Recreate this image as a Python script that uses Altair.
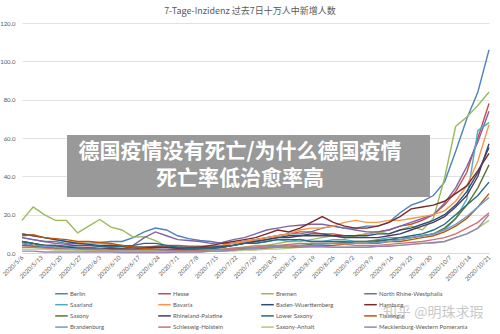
import altair as alt
import pandas as pd

# ---- data -------------------------------------------------------------
DATES = pd.date_range("2020-05-06", "2020-10-21", freq="4D")          # 43 sample dates
TICK_DATES = pd.date_range("2020-05-06", "2020-10-21", freq="7D")     # weekly axis labels

STATES = ["Berlin", "Hesse", "Bremen", "North Rhine-Westphalia",
          "Saarland", "Bavaria", "Baden-Wuerttemberg", "Hamburg",
          "Saxony", "Rhineland-Palatine", "Lower Saxony", "Thuringia",
          "Brandenburg", "Schleswig-Holstein", "Saxony-Anhalt",
          "Mecklenburg-Western Pomerania"]
COLORS = ["#4F81BD", "#C0504D", "#9BBB59", "#8064A2",
          "#4BACC6", "#F79646", "#2C4D75", "#772C2A",
          "#5F7530", "#4D3B62", "#276A7C", "#B65708",
          "#729ACA", "#CD7371", "#AFC97A", "#9983B5"]

berlin = [8, 7, 6, 6, 5, 5, 5, 5.5, 6, 6, 8, 11, 13, 12, 9, 7.5, 6.5, 6, 5, 5, 6, 7, 8, 9, 10,
          10, 11, 13, 14, 13, 13, 14, 14, 16, 21, 25, 27, 30, 37, 53, 70, 84, 106]
hesse = [5, 4, 4, 3.5, 3, 3, 3, 2.5, 2.5, 2.5, 3, 3, 3.5, 4, 4, 3.5, 3.5, 3.5, 4, 5, 6, 7, 8, 9, 10,
         11, 11, 10, 10, 9, 9, 10, 11, 12, 14, 15, 17, 20, 25, 32, 42, 60, 78]
bremen = [17, 24, 20, 17, 17, 10.5, 14, 17.5, 13.5, 12, 8.3, 8.5, 6.5, 3.5, 2.5, 2, 2, 1.5, 2, 2.5,
          3, 4, 4, 5, 6, 6, 7, 8, 9, 8, 9, 10, 11, 10, 12, 14, 12, 18, 39, 66, 71, 77, 84]
nrw = [8, 7, 6, 5, 4.5, 4, 4, 3.5, 3.5, 3.5, 4, 8, 11, 9, 7, 6.5, 6, 5, 5.5, 7, 8, 10, 12, 13, 14,
       14.5, 15, 15, 14, 13, 12, 11, 11, 12, 14, 16, 18, 20, 26, 34, 45, 58, 74]
saarland = [6, 5, 4, 3.5, 3, 3, 2.5, 2, 2, 2, 1.5, 1.5, 1.5, 1.5, 2, 2, 2, 2, 3, 4, 5, 5, 6, 7, 6,
            7, 6, 6, 7, 7, 6, 6, 7, 8, 8, 8, 9, 10, 12, 18, 28, 64, 68]
bavaria = [10, 9, 8, 7, 6, 5.5, 5, 5, 4.5, 4, 3.5, 3, 3, 3, 3, 3, 3, 3.5, 4, 5, 6, 7, 8, 9, 10,
           12, 13, 13, 14, 16, 17, 16, 16, 17, 17, 18, 19, 20, 22, 27, 35, 48, 67]
bw = [10, 9, 8, 7, 6, 5, 4.5, 4, 4, 3.5, 3, 3, 3, 3, 3, 3, 3, 3, 3.5, 4, 5, 6, 7, 8, 9,
      9, 10, 10, 9, 9, 9, 9, 10, 10, 12, 13, 15, 17, 20, 25, 32, 42, 55]
hamburg = [6, 5, 4, 4, 3, 2.5, 2.5, 2, 2, 2, 2, 2.5, 3, 3, 2.5, 2.5, 3, 4, 5, 6, 7, 8, 10, 12, 11,
           13, 16, 19, 16, 14, 13, 13, 14, 16, 19, 23, 24, 25, 27, 31, 35, 43, 52]
saxony = [4, 3.5, 3, 2.5, 2, 2, 2, 1.5, 1.5, 1.5, 1, 1, 1, 1, 1, 1, 1, 1.5, 1.5, 2, 2.5, 3, 3, 3.5, 4,
          4, 4.5, 5, 5, 5.5, 6, 6, 6.5, 7, 7, 8, 9, 10, 13, 18, 25, 34, 46]
rp = [5, 4, 3.5, 3, 2.5, 2, 2, 2, 2, 2, 2, 2, 2, 2, 2, 2, 2, 2.5, 3, 4, 5, 6, 7, 8, 8,
      9, 9, 9, 9, 8, 8, 8, 8, 9, 10, 12, 14, 16, 19, 24, 30, 40, 57]
lower_saxony = [6, 5, 4, 4, 3.5, 4, 4, 3.5, 3, 3.5, 4, 5, 5, 4, 3, 2.5, 2.5, 2.5, 3, 4, 5, 5, 6, 7, 7,
                7, 6, 6, 6, 6, 5, 5, 6, 7, 8, 9, 10, 12, 15, 20, 25, 30, 37]
thuringia = [9, 9.5, 8, 7.5, 7, 6, 6, 5.5, 5, 4, 3, 2.5, 2, 1.5, 1.5, 1, 1, 1, 1, 1.5, 2, 2, 2.5, 3, 3,
             3.5, 4, 4, 4, 4.5, 5, 5, 5, 6, 6, 7, 8, 9, 11, 14, 18, 24, 31]
brandenburg = [5, 4, 3.5, 3, 2.5, 2, 2, 2, 1.5, 1.5, 1.5, 1.5, 1.5, 1.5, 1, 1, 1, 1, 1.5, 2, 2, 2.5, 3, 3.5, 4,
               4, 4, 4.5, 5, 5, 5, 5, 5.5, 6, 7, 8, 9, 10, 12, 15, 19, 24, 29]
sh = [3, 3, 2.5, 2, 2, 1.5, 1.5, 1.5, 1, 1, 1, 1, 1, 1, 1, 1, 1.5, 1.5, 2, 2.5, 3, 3, 4, 4, 4.5,
      5, 5, 5, 5, 4.5, 4, 4, 4, 4.5, 5, 5.5, 6, 7, 8, 10, 13, 16, 21]
sa = [2, 2, 2, 1.5, 1.5, 1.5, 1, 1, 1, 1, 1, 1, 1, 0.5, 0.5, 0.5, 0.5, 1, 1, 1, 1.5, 1.5, 2, 2, 2.5,
      3, 3, 3, 3, 3, 3, 3, 3.5, 4, 4, 4.5, 5, 5, 6, 8, 10, 13, 17]
mwp = [1, 1, 0.5, 0.5, 0.5, 0.5, 0.5, 0.5, 0.5, 0.3, 0.3, 0.3, 0.3, 0.3, 0.5, 0.5, 0.5, 1, 1, 1.5, 2, 2.5, 3, 3, 3,
       3, 3.5, 3.5, 3, 3, 3, 3, 3.5, 3.5, 4, 4.5, 5, 5.5, 6, 8, 10, 13, 20]

SERIES = [berlin, hesse, bremen, nrw, saarland, bavaria, bw, hamburg,
          saxony, rp, lower_saxony, thuringia, brandenburg, sh, sa, mwp]

Y_TICKS = [0, 20, 40, 60, 80, 100, 120]

TITLE = "7-Tage-Inzidenz 过去7日十万人中新增人数"
BANNER_1 = "德国疫情没有死亡/为什么德国疫情"
BANNER_2 = "死亡率低治愈率高"
WATERMARK = "知乎 @明珠求瑕"

rows = []
for s, vals in zip(STATES, SERIES):
    for d, v in zip(DATES, vals):
        rows.append({"date": d, "state": s, "value": v})
df = pd.DataFrame(rows)

def dt(ts):
    return alt.DateTime(year=ts.year, month=ts.month, date=ts.day)

GRAY = "#595959"
FONT = "Noto Sans CJK SC"
LFONT = "Lato"

lines = alt.Chart(df).mark_line(strokeWidth=1.4).encode(
    x=alt.X("date:T",
            scale=alt.Scale(domain=[dt(DATES[0]), dt(DATES[-1])]),
            axis=alt.Axis(values=[dt(t) for t in TICK_DATES], format="%Y/%-m/%-d",
                          labelAngle=-45, labelAlign="right", labelBaseline="middle",
                          labelFontSize=6, labelColor=GRAY, labelFont=LFONT,
                          labelPadding=3, labelOverlap=False, labelFlush=False,
                          ticks=False, grid=False, domain=True, domainColor="#d9d9d9",
                          title=None)),
    y=alt.Y("value:Q",
            scale=alt.Scale(domain=[0, 120], nice=False),
            axis=alt.Axis(values=Y_TICKS, format=".1f", labelFontSize=6, labelColor=GRAY,
                          labelFont=LFONT, labelPadding=7, ticks=False, domain=False,
                          grid=True, gridColor="#d9d9d9", gridWidth=0.8, title=None)),
    color=alt.Color("state:N",
                    scale=alt.Scale(domain=STATES, range=COLORS),
                    legend=alt.Legend(title=None, orient="none", legendX=34, legendY=265,
                                      direction="horizontal",
                                      columns=4, gridAlign="all", columnPadding=-9,
                                      rowPadding=2.2, padding=0,
                                      symbolType="M-1.4,0H1.4", symbolSize=81,
                                      symbolStrokeWidth=1.5, labelOffset=3,
                                      labelFontSize=6, labelFont=LFONT, labelColor=GRAY,
                                      labelLimit=200)),
)

one = pd.DataFrame({"a": [0]})

title = alt.Chart(one).mark_text(text=TITLE, font=FONT, fontSize=9, color=GRAY,
                                 align="center", baseline="middle").encode(
    x=alt.value(228), y=alt.value(-12))

banner = alt.Chart(one).mark_rect(color="#999999").encode(
    x=alt.value(45), x2=alt.value(408), y=alt.value(112), y2=alt.value(174))

b1 = alt.Chart(one).mark_text(text=BANNER_1, font=FONT, fontSize=21, fontWeight="bold",
                              color="white", align="center", baseline="middle").encode(
    x=alt.value(218), y=alt.value(129))
b2 = alt.Chart(one).mark_text(text=BANNER_2, font=FONT, fontSize=21, fontWeight="bold",
                              color="white", align="center", baseline="middle").encode(
    x=alt.value(218), y=alt.value(155.5))

wm = alt.Chart(one).mark_text(text=WATERMARK, font=FONT, fontSize=14, color="#c4c4c4",
                              opacity=0.9, align="left", baseline="middle").encode(
    x=alt.value(361), y=alt.value(290))

chart = alt.layer(lines, banner, b1, b2, title, wm).properties(
    width=467, height=230,
    autosize=alt.AutoSizeParams(type="none"),
    padding={"left": 22, "top": 23, "right": 11, "bottom": 81},
    background="white",
).configure_view(stroke=None)

chart.save("out.html", embed_options={"renderer": "svg", "actions": False})
